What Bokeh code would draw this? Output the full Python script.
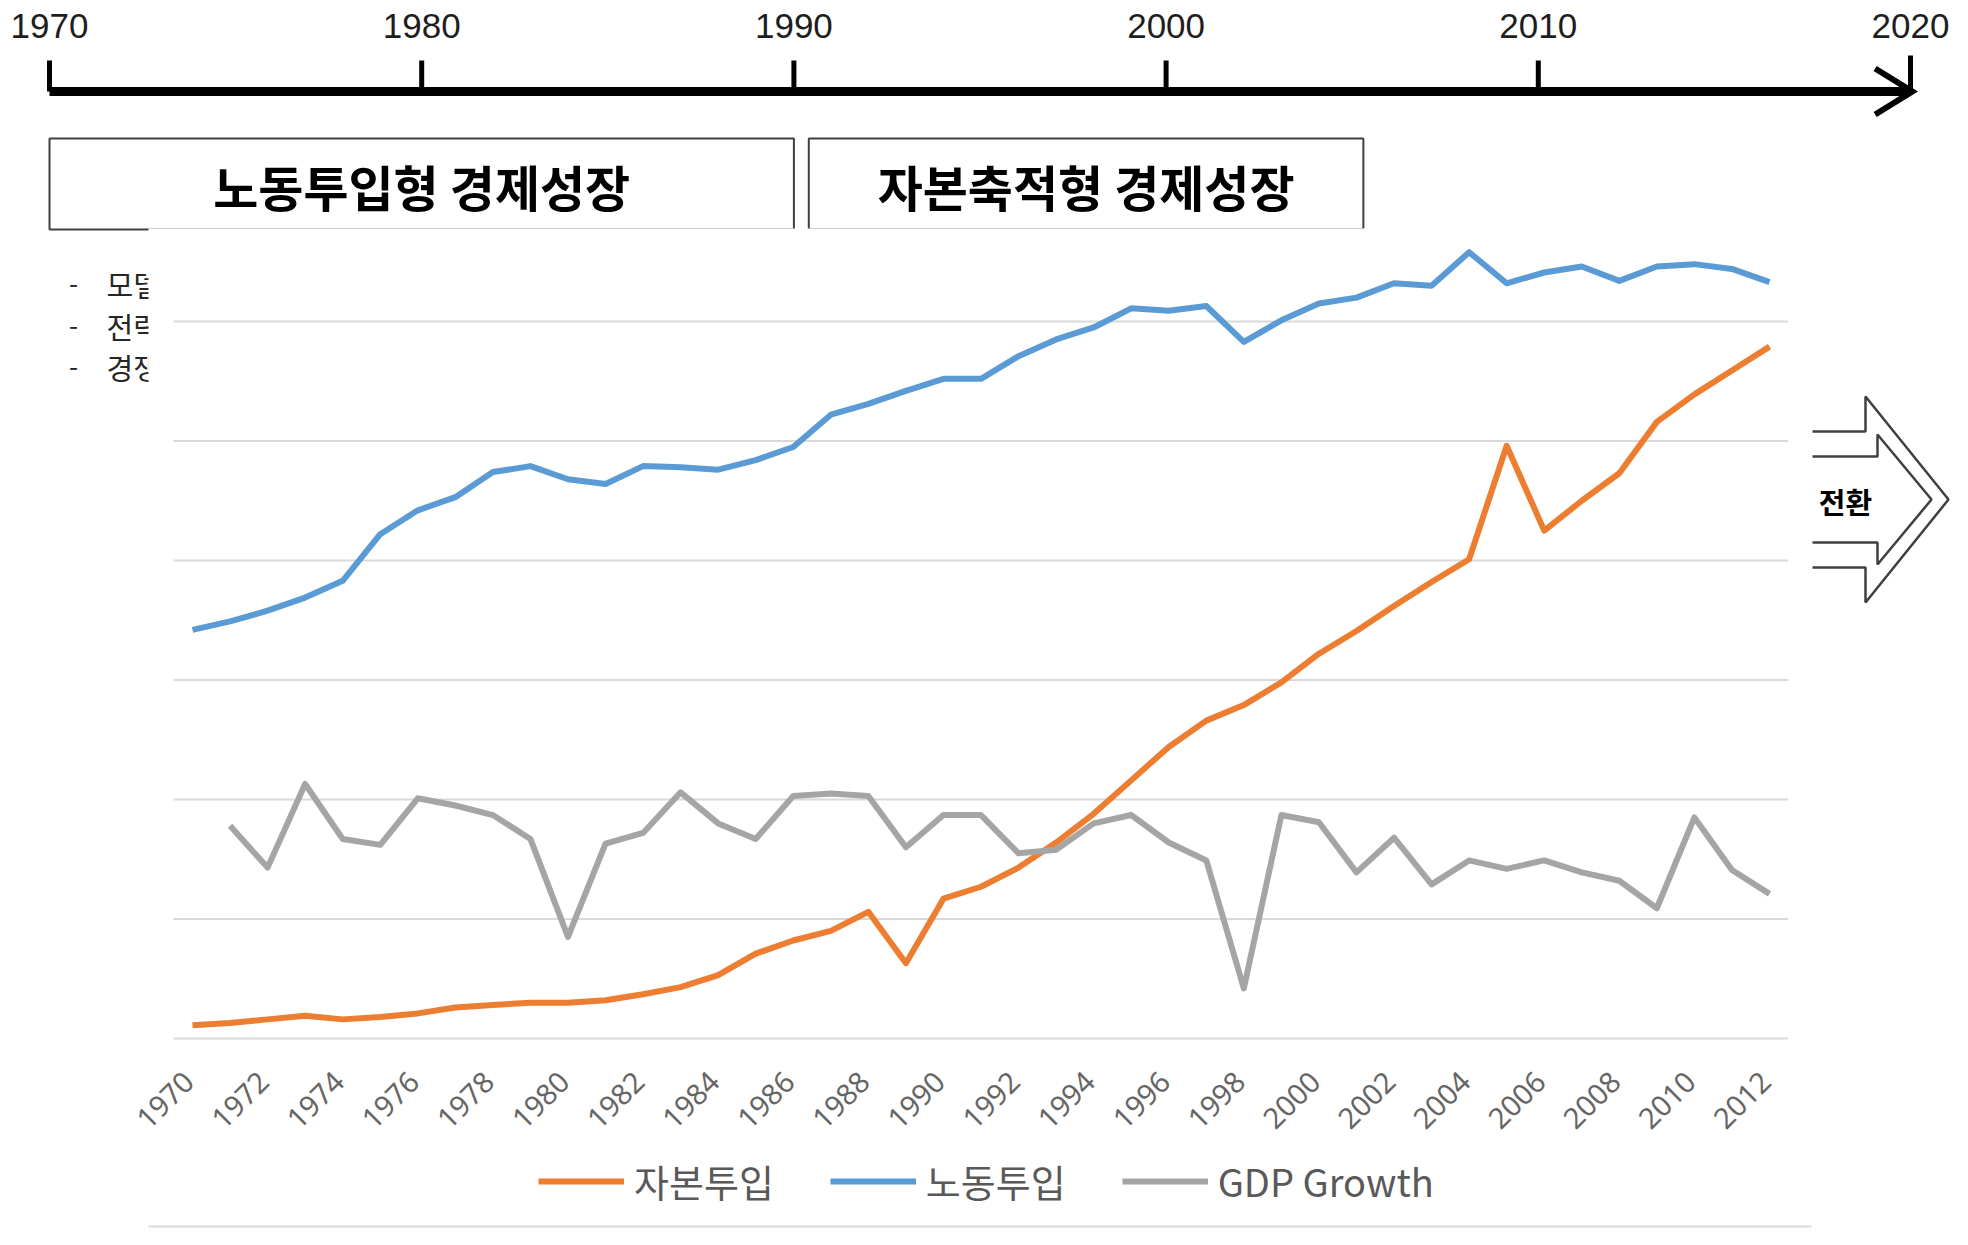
import numpy as np
from bokeh.plotting import figure
from bokeh.models import Range1d, Legend, LegendItem
from bokeh.core.properties import value
from bokeh.embed import file_html
from bokeh.resources import INLINE

# ---------------- data ----------------
years = list(range(1970, 2013))
capital_input = [0.11, 0.13, 0.16, 0.19, 0.16, 0.18, 0.21, 0.26, 0.28, 0.30,
                 0.30, 0.32, 0.37, 0.43, 0.53, 0.71, 0.82, 0.90, 1.06, 0.63,
                 1.17, 1.27, 1.43, 1.64, 1.88, 2.16, 2.44, 2.66, 2.79, 2.98,
                 3.22, 3.41, 3.62, 3.82, 4.01, 4.96, 4.25, 4.50, 4.73, 5.16,
                 5.39, 5.59, 5.79]
labor_input = [3.42, 3.49, 3.58, 3.69, 3.83, 4.22, 4.42, 4.53, 4.74, 4.79,
               4.68, 4.64, 4.79, 4.78, 4.76, 4.84, 4.95, 5.22, 5.31, 5.42,
               5.52, 5.52, 5.71, 5.85, 5.95, 6.11, 6.09, 6.13, 5.83, 6.01,
               6.15, 6.20, 6.32, 6.30, 6.58, 6.32, 6.41, 6.46, 6.34, 6.46,
               6.48, 6.44, 6.33]
gdp_growth = [np.nan, 1.78, 1.43, 2.13, 1.67, 1.62, 2.01, 1.95, 1.87, 1.67,
              0.85, 1.63, 1.72, 2.06, 1.80, 1.67, 2.03, 2.05, 2.03, 1.60,
              1.87, 1.87, 1.55, 1.58, 1.80, 1.87, 1.64, 1.49, 0.42, 1.87,
              1.81, 1.39, 1.68, 1.29, 1.49, 1.42, 1.49, 1.39, 1.32, 1.09,
              1.85, 1.41, 1.21]
series_names = ["자본투입", "노동투입", "GDP Growth"]
y_grid_values = [0, 1, 2, 3, 4, 5, 6]
x_tick_years = list(range(1970, 2013, 2))

timeline_ticks = [1970, 1980, 1990, 2000, 2010, 2020]
era_labels = ["노동투입형 경제성장", "자본축적형 경제성장"]
era_start = [1970, 1990.4]
era_end = [1990, 2005.3]

side_items = ["모델", "전략", "경쟁"]
shift_label = "전환"

# ---------------- layout helpers ----------------
W, H = 1952, 1229
LEFT, RIGHT, TOP, BOTTOM = 0, W, 0, H   # picture pixel frame


def lin_range(p0, v0, p1, v1, lo, hi):
    s = (v1 - v0) / (p1 - p0)
    return Range1d(start=v0 + (lo - p0) * s, end=v0 + (hi - p0) * s)


p = figure(width=W, height=H,
           x_range=Range1d(LEFT, RIGHT), y_range=Range1d(BOTTOM, TOP),
           x_axis_type=None, y_axis_type=None,
           output_backend="svg", toolbar_location=None,
           min_border=0, outline_line_color=None,
           background_fill_color="white", border_fill_color="white")

p.extra_x_ranges = {
    "yr": lin_range(192, years[0], 1769, years[-1], LEFT, RIGHT),
    "tl": lin_range(49, timeline_ticks[0], 1910, timeline_ticks[-1], LEFT, RIGHT),
}
p.extra_y_ranges = {
    "val": lin_range(1038, y_grid_values[0], 321, y_grid_values[-1], BOTTOM, TOP),
}

KR = value("Noto Sans CJK KR")
dark = "#262626"
edge = "#404040"

# ---------------- left bullet text (partly hidden by the chart) ----------------
rows_y = [283, 325, 366]
p.text(x=[73] * 3, y=rows_y, text=["-"] * 3, text_font=KR, text_font_size="26px",
       text_color=dark, text_align="center", text_baseline="middle")
p.text(x=[106] * 3, y=rows_y, text=side_items, text_font=KR, text_font_size="29px",
       text_color=dark, text_align="left", text_baseline="middle")

# ---------------- right double outline arrow ----------------
cy = 499
p.line(x=[1800, 1865, 1865, 1948, 1865, 1865, 1800],
       y=[cy - 68, cy - 68, cy - 103, cy, cy + 103, cy + 68, cy + 68],
       line_color=edge, line_width=2.5)
p.line(x=[1800, 1877, 1877, 1931, 1877, 1877, 1800],
       y=[cy - 43, cy - 43, cy - 65, cy, cy + 65, cy + 43, cy + 43],
       line_color=edge, line_width=2.5)
p.text(x=[1845], y=[cy + 1], text=[shift_label], text_font=KR, text_font_size="29px",
       text_font_style="bold", text_color="black", text_align="center",
       text_baseline="middle")

# ---------------- timeline ----------------
p.segment(x0=[timeline_ticks[0]], x1=[timeline_ticks[-1]], y0=[91], y1=[91],
          x_range_name="tl", line_color="black", line_width=9)
p.segment(x0=timeline_ticks, x1=timeline_ticks, y0=[60] * 5 + [55], y1=[91] * 6,
          x_range_name="tl", line_color="black", line_width=5)
p.line(x=[timeline_ticks[-1] - 0.95, timeline_ticks[-1] + 0.05, timeline_ticks[-1] - 0.95],
       y=[68, 91, 114], x_range_name="tl", line_color="black", line_width=6,
       line_join="miter")
p.text(x=timeline_ticks, y=[25] * 6, text=[str(t) for t in timeline_ticks],
       x_range_name="tl", text_font=value("Liberation Sans"), text_font_size="35px",
       text_color="#1e1e1e", text_align="center", text_baseline="middle")

# era boxes
p.quad(left=era_start, right=era_end, top=[138] * 2, bottom=[229] * 2,
       x_range_name="tl", fill_color="white", line_color=edge, line_width=2)
p.text(x=[(s + e) / 2 for s, e in zip(era_start, era_end)], y=[185] * 2,
       text=era_labels, x_range_name="tl", text_font=KR, text_font_size="49px",
       text_font_style="bold", text_color="black", text_align="center",
       text_baseline="middle")

# ---------------- chart area (white panel over the slide) ----------------
p.quad(left=[148], right=[1812], top=[228], bottom=[1260],
       fill_color="white", line_color=None)
p.segment(x0=[148], x1=[1811], y0=[1226], y1=[1226], line_color="#D9D9D9",
          line_width=2)

p.segment(x0=[years[0] - 0.5] * len(y_grid_values),
          x1=[years[-1] + 0.5] * len(y_grid_values),
          y0=y_grid_values, y1=y_grid_values,
          x_range_name="yr", y_range_name="val",
          line_color="#D9D9D9", line_width=2)

r_cap = p.line(years, capital_input, x_range_name="yr", y_range_name="val",
               line_color="#ED7D31", line_width=6, line_join="round")
r_lab = p.line(years, labor_input, x_range_name="yr", y_range_name="val",
               line_color="#5B9BD5", line_width=6, line_join="round")
r_gdp = p.line(years, gdp_growth, x_range_name="yr", y_range_name="val",
               line_color="#A5A5A5", line_width=6, line_join="round")

p.text(x=x_tick_years, y=[y_grid_values[0]] * len(x_tick_years),
       text=[str(y) for y in x_tick_years], x_range_name="yr", y_range_name="val",
       angle=np.pi / 4, x_offset=-4, y_offset=38,
       text_font=value("Noto Sans"), text_font_size="29px", text_color="#666666",
       text_align="right", text_baseline="middle")

legend = Legend(items=[LegendItem(label=series_names[0], renderers=[r_cap]),
                       LegendItem(label=series_names[1], renderers=[r_lab]),
                       LegendItem(label=series_names[2], renderers=[r_gdp])],
                orientation="horizontal", location=(538, 21),
                glyph_width=86, glyph_height=20, label_standoff=10, spacing=56,
                padding=0, margin=0, border_line_color=None,
                background_fill_alpha=0,
                label_text_font="Noto Sans CJK KR", label_text_font_size="38px",
                label_text_color="#595959")
p.add_layout(legend)

open("out.html", "w").write(file_html(p, INLINE))
